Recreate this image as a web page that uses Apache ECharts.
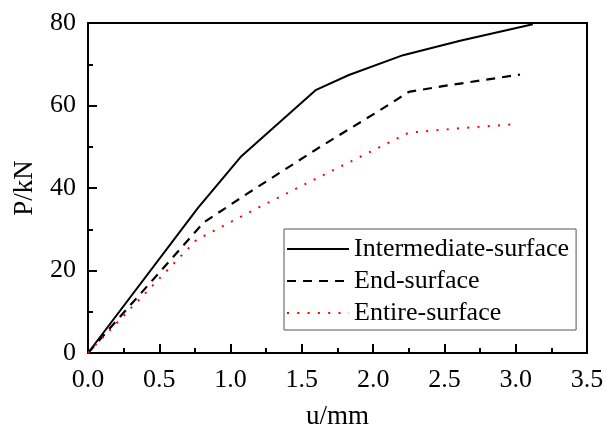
<!DOCTYPE html>
<html>
<head>
<meta charset="utf-8">
<script src="https://cdn.jsdelivr.net/npm/echarts@6/dist/echarts.min.js"></script>
<style>html,body{margin:0;padding:0;background:#fff}#c{width:606px;height:425px}</style>
</head>
<body>
<div id="c"></div>
<script>
var seriesNames = ['Intermediate-surface', 'End-surface', 'Entire-surface'];
var uIntermediate = [0, 0.77, 1.07, 1.60, 1.83, 2.21, 2.61, 3.12];
var pIntermediate = [0, 35.1, 47.5, 63.8, 67.4, 72.2, 75.7, 79.7];
var uEnd = [0, 0.81, 1.12, 1.63, 2.05, 2.25, 2.49, 3.03];
var pEnd = [0, 31.6, 38.7, 50.0, 58.9, 63.3, 64.7, 67.5];
var uEntire = [0, 0.76, 1.21, 1.59, 2.25, 2.61, 2.97];
var pEntire = [0, 27.4, 35.5, 42.1, 53.4, 54.5, 55.4];
var xTicks = [0, 0.5, 1.0, 1.5, 2.0, 2.5, 3.0, 3.5];
var yTicks = [0, 20, 40, 60, 80];

function pairs(u, p) { return u.map(function (v, i) { return [v, p[i]]; }); }
var FONT = "'Liberation Serif', 'Times New Roman', serif";
var chart = echarts.init(document.getElementById('c'));
chart.setOption({
  animation: false,
  backgroundColor: '#fff',
  grid: { left: 88, right: 19, top: 23, bottom: 72, outerBoundsMode: 'none', containLabel: false, show: true, borderColor: '#000', borderWidth: 2, backgroundColor: 'transparent' },
  xAxis: {
    type: 'value', min: xTicks[0], max: xTicks[xTicks.length - 1], interval: 0.5,
    name: 'u/mm', nameLocation: 'middle', nameGap: 50,
    nameTextStyle: { fontFamily: FONT, fontSize: 27, color: '#000' },
    axisLine: { lineStyle: { color: '#000', width: 2 } },
    axisTick: { inside: true, length: 9, lineStyle: { color: '#000', width: 2 } },
    minorTick: { show: true, splitNumber: 2, length: 5, lineStyle: { color: '#000', width: 2 } },
    splitLine: { show: false },
    axisLabel: { fontFamily: FONT, fontSize: 26, color: '#000', margin: 14, formatter: function (v) { return v.toFixed(1); } }
  },
  yAxis: {
    type: 'value', min: yTicks[0], max: yTicks[yTicks.length - 1], interval: 20,
    name: 'P/kN', nameLocation: 'middle', nameGap: 50,
    nameTextStyle: { fontFamily: FONT, fontSize: 27, color: '#000' },
    axisLine: { lineStyle: { color: '#000', width: 2 } },
    axisTick: { inside: true, length: 9, lineStyle: { color: '#000', width: 2 } },
    minorTick: { show: true, splitNumber: 2, length: 5, lineStyle: { color: '#000', width: 2 } },
    splitLine: { show: false },
    axisLabel: { fontFamily: FONT, fontSize: 26, color: '#000', margin: 12 }
  },
  legend: {
    orient: 'vertical', left: 284, top: 229,
    data: seriesNames,
    itemWidth: 62, itemHeight: 14, itemGap: 6,
    padding: [7, 7, 4, 2],
    borderColor: '#555', borderWidth: 1,
    itemStyle: { opacity: 0 },
    textStyle: { fontFamily: FONT, fontSize: 26, color: '#000', lineHeight: 26 }
  },
  series: [
    { name: seriesNames[0], type: 'line', data: pairs(uIntermediate, pIntermediate), symbol: 'none',
      lineStyle: { color: '#000', width: 2, type: 'solid' }, itemStyle: { color: '#000' } },
    { name: seriesNames[1], type: 'line', data: pairs(uEnd, pEnd), symbol: 'none',
      lineStyle: { color: '#000', width: 2.2, type: [9, 7] }, itemStyle: { color: '#000' } },
    { name: seriesNames[2], type: 'line', data: pairs(uEntire, pEntire), symbol: 'none',
      lineStyle: { color: '#ff0000', width: 2, type: [2, 8.3] }, itemStyle: { color: '#ff0000' } }
  ]
});
</script>
</body>
</html>
